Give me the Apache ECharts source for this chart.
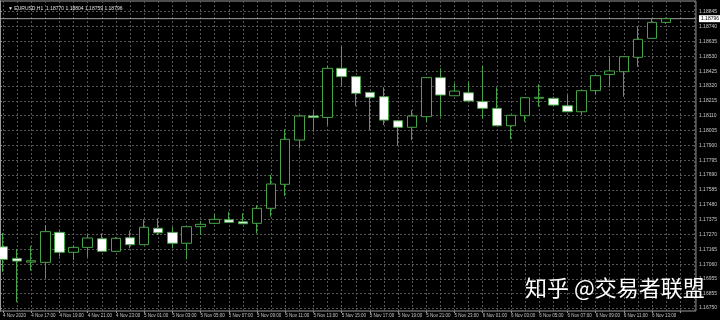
<!DOCTYPE html>
<html>
<head>
<meta charset="utf-8">
<script src="https://cdn.jsdelivr.net/npm/echarts@6/dist/echarts.min.js"></script>
<style>
html,body{margin:0;padding:0;background:#000;}
#chart{width:720px;height:320px;}
</style>
</head>
<body>
<div id="chart"></div>
<script>
// Hourly bars, EURUSD H1, 4 Nov 15:00 -> 6 Nov 14:00 (plus two empty slots on the right)
const categories = [
  '4 Nov 15:00','4 Nov 16:00','4 Nov 17:00','4 Nov 18:00','4 Nov 19:00','4 Nov 20:00','4 Nov 21:00','4 Nov 22:00','4 Nov 23:00',
  '5 Nov 00:00','5 Nov 01:00','5 Nov 02:00','5 Nov 03:00','5 Nov 04:00','5 Nov 05:00','5 Nov 06:00','5 Nov 07:00','5 Nov 08:00',
  '5 Nov 09:00','5 Nov 10:00','5 Nov 11:00','5 Nov 12:00','5 Nov 13:00','5 Nov 14:00','5 Nov 15:00','5 Nov 16:00','5 Nov 17:00',
  '5 Nov 18:00','5 Nov 19:00','5 Nov 20:00','5 Nov 21:00','5 Nov 22:00','5 Nov 23:00',
  '6 Nov 00:00','6 Nov 01:00','6 Nov 02:00','6 Nov 03:00','6 Nov 04:00','6 Nov 05:00','6 Nov 06:00','6 Nov 07:00','6 Nov 08:00',
  '6 Nov 09:00','6 Nov 10:00','6 Nov 11:00','6 Nov 12:00','6 Nov 13:00','6 Nov 14:00',
  '', ''
];
const firstLabel = '4 Nov 2020';

const opens = [
  1.17183,1.17101,1.17075,1.17073,1.17285,1.17144,1.17179,1.17240,1.17151,1.17247,
  1.17198,1.17314,1.17285,1.17208,1.17325,1.17349,1.17374,1.17360,1.17349,1.17455,
  1.17625,1.17938,1.18108,1.18098,1.18445,1.18386,1.18275,1.18244,1.18074,1.18028,
  1.18103,1.18379,1.18251,1.18272,1.18210,1.18162,1.18039,1.18110,1.18233,1.18233,
  1.18180,1.18138,1.18287,1.18402,1.18421,1.18523,1.18657,1.18770
];
const closes = [
  1.17094,1.17082,1.17084,1.17290,1.17144,1.17179,1.17245,1.17151,1.17243,1.17198,
  1.17321,1.17282,1.17208,1.17325,1.17342,1.17377,1.17356,1.17346,1.17455,1.17627,
  1.17943,1.18108,1.18097,1.18445,1.18386,1.18268,1.18240,1.18079,1.18028,1.18108,
  1.18379,1.18256,1.18284,1.18214,1.18162,1.18039,1.18113,1.18237,1.18240,1.18185,
  1.18138,1.18287,1.18393,1.18426,1.18527,1.18650,1.18770,1.18796
];
const lows = [
  1.17005,1.16792,1.17014,1.16960,1.17113,1.17089,1.17111,1.17146,1.17146,1.17172,
  1.17196,1.17266,1.17172,1.17094,1.17266,1.17344,1.17351,1.17344,1.17278,1.17396,
  1.17542,1.17879,1.17997,1.18044,1.18315,1.18178,1.18009,1.18044,1.17903,1.17938,
  1.18067,1.18103,1.18249,1.18210,1.18086,1.18037,1.17943,1.18067,1.18173,1.18182,
  1.18136,1.18115,1.18256,1.18311,1.18244,1.18456,1.18655,1.18759
];
const highs = [
  1.17280,1.17167,1.17188,1.17337,1.17294,1.17196,1.17266,1.17278,1.17252,1.17297,
  1.17377,1.17384,1.17321,1.17330,1.17365,1.17413,1.17431,1.17420,1.17478,1.17690,
  1.18014,1.18115,1.18143,1.18461,1.18598,1.18391,1.18277,1.18311,1.18079,1.18150,
  1.18384,1.18445,1.18339,1.18350,1.18461,1.18311,1.18115,1.18242,1.18332,1.18244,
  1.18256,1.18291,1.18398,1.18532,1.18532,1.18739,1.18798,1.18804
];
const priceTicks = [
  1.18845,1.18740,1.18635,1.18530,1.18425,1.18320,1.18215,1.18110,1.18005,1.17900,
  1.17795,1.17690,1.17585,1.17480,1.17375,1.17270,1.17165,1.17060,1.16955,1.16855,1.16750
];
const yMin = 1.16729, yMax = 1.18921;
const headerText = '\u25BC EURUSD,H1  1.18770 1.18804 1.18759 1.18796';
const watermark = '知乎 @交易者联盟';
const lastPrice = closes[closes.length - 1];

const candleData = opens.map((o, i) => [o, closes[i], lows[i], highs[i]]);

const GREEN = '#46a546';
const GRIDC = '#565656';
const TXT = '#c8c8c8';
const chart = echarts.init(document.getElementById('chart'), null, {renderer: 'canvas'});
chart.setOption({
  backgroundColor: '#000',
  animation: false,
  title: {
    text: headerText, left: 3, top: 1,
    textStyle: {color: '#e0e0e0', fontSize: 5, fontWeight: 'normal', fontFamily: 'Liberation Sans'}
  },
  grid: [
    {left: 2, right: 25.6, top: 1, bottom: 9},
    {left: 0, right: 18, top: 1, bottom: 9, show: true, borderColor: '#9a9a9a', borderWidth: 1, backgroundColor: 'transparent'}
  ],
  xAxis: [
    {
      type: 'category', gridIndex: 0, data: categories, boundaryGap: false,
      axisLine: {show: false},
      axisTick: {show: true, interval: 1, length: 2, lineStyle: {color: '#9a9a9a'}},
      axisLabel: {
        interval: 1, align: 'left', margin: 2, fontSize: 4.5, color: TXT, fontFamily: 'Liberation Sans',
        formatter: (v, i) => i === 0 ? firstLabel : v
      },
      splitLine: {show: true, interval: 0, lineStyle: {color: GRIDC, type: [2, 2], width: 1}}
    },
    {type: 'value', gridIndex: 1, min: 0, max: 1, show: false}
  ],
  yAxis: [
    {type: 'value', gridIndex: 0, min: yMin, max: yMax, show: false, splitLine: {show: false}},
    {
      type: 'value', gridIndex: 1, min: yMin, max: yMax, position: 'right',
      axisLine: {show: true, lineStyle: {color: '#9a9a9a'}},
      axisTick: {show: true, length: 2, customValues: priceTicks, lineStyle: {color: '#9a9a9a'}},
      axisLabel: {
        customValues: priceTicks, margin: 3, fontSize: 5, color: TXT, fontFamily: 'Liberation Sans',
        formatter: v => v.toFixed(5)
      },
      splitLine: {show: true, lineStyle: {color: GRIDC, type: [2, 2], width: 1}}
    }
  ],
  graphic: [{
    type: 'text', left: 525, top: 277, z: 100,
    style: {text: watermark, fill: '#ffffff', font: '22px "Noto Sans CJK SC"'}
  }],
  series: [
    {
      type: 'line', xAxisIndex: 1, yAxisIndex: 1, silent: true, z: 1,
      data: [[0, lastPrice], [1, lastPrice]],
      symbol: 'none',
      lineStyle: {color: '#a0a0a0', type: 'solid', width: 1},
      endLabel: {
        show: true, distance: 3, formatter: p => p.value[1].toFixed(5),
        backgroundColor: '#ffffff', color: '#000', fontSize: 5, padding: [1, 2], fontFamily: 'Liberation Sans'
      }
    },
    {
      type: 'candlestick', xAxisIndex: 0, yAxisIndex: 0, data: candleData,
      barWidth: 10, clip: false, z: 3,
      itemStyle: {color: '#000000', borderColor: GREEN, color0: '#ffffff', borderColor0: GREEN, borderWidth: 1}
    }
  ]
});
</script>
</body>
</html>
